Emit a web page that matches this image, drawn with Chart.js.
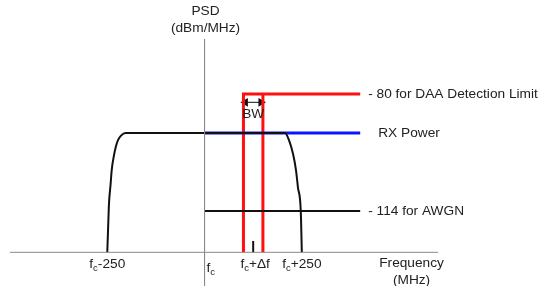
<!DOCTYPE html>
<html>
<head>
<meta charset="utf-8">
<script src="https://cdn.jsdelivr.net/npm/chart.js@4"></script>
<style>
  body { margin: 0; background: #fff; }
  canvas { display: block; }
</style>
</head>
<body>
<canvas id="psdChart" width="542" height="286"></canvas>
<script>
// spectrum mask (MHz offset from fc, dBm/MHz)
const spectrumX = [-250, -248, -245.5, -241.6, -238.6, -232.6, -227.5, -222.4, -214.7, -203, 207, 217, 227.5, 235, 240, 247.3, 250];
const spectrumY = [-126, -119.5, -111.7, -106.4, -102.1, -97.7, -95.1, -93.4, -92.1, -91.3, -91.3, -93.4, -97.4, -102.1, -107.1, -114, -126];

// levels
const rxPower = -91.3;
const daaLimit = -80;
const awgnLevel = -114;
const floorLevel = -126;

// detection window fc+Δf, BW
const deltaF = 125;
const bw = 50;
const lineEnd = 400;

// axes
const freqTicks = [-250, 0, 125, 250];
const freqTickLabels = ['fc-250', 'fc', 'fc+Δf', 'fc+250'];
const levelLabels = ['- 80 for DAA Detection Limit', 'RX Power', '- 114 for AWGN'];
const levelValues = [daaLimit, rxPower, awgnLevel];

const pts = (xs, ys) => xs.map((x, i) => ({ x: x, y: ys[i] }));

const lo = deltaF - bw / 2, hi = deltaF + bw / 2;

const datasets = [
    { // eixos
        data: pts([-500, 600], [floorLevel, floorLevel]),
        borderColor: '#8a8a8a', borderWidth: 1
    },
    {
        data: pts([0, 0], [-64, -136]),
        borderColor: '#8a8a8a', borderWidth: 1
    },
    { // curva do espectro
        data: pts(spectrumX, spectrumY),
        borderColor: '#111', borderWidth: 2, cubicInterpolationMode: 'monotone'
    },
    { // AWGN
        data: pts([0, lineEnd], [awgnLevel, awgnLevel]),
        borderColor: '#111', borderWidth: 2
    },
    { // RX power
        data: pts([0, lineEnd], [rxPower, rxPower]),
        borderColor: '#0a14ff', borderWidth: 3
    },
    { // tick fc+Δf
        data: pts([deltaF, deltaF], [floorLevel, -122.7]),
        borderColor: '#111', borderWidth: 2
    },
    { // janela DAA
        data: pts([lo, lo, lineEnd], [floorLevel, daaLimit, daaLimit]),
        borderColor: '#ff1010', borderWidth: 3
    },
    {
        data: pts([hi, hi], [daaLimit, floorLevel]),
        borderColor: '#ff1010', borderWidth: 3
    },
    { // seta BW
        data: pts([lo + 5, hi - 5], [-82.4, -82.4]),
        borderColor: '#111', borderWidth: 1,
        pointStyle: 'triangle', pointRadius: 5, pointRotation: [-90, 90],
        pointBackgroundColor: '#111', pointBorderColor: '#111', pointBorderWidth: 0
    }
];
datasets.forEach(d => { if (!d.pointRadius) d.pointRadius = 0; d.fill = false; });

const FONT = '13.7px "Liberation Sans", Arial, sans-serif';
const SUB = '9.5px "Liberation Sans", Arial, sans-serif';

// desenha "f" com subscrito "c" e o resto
function drawFc(ctx, label, x, y, align) {
    const rest = label.slice(2);
    ctx.font = FONT;
    const wf = ctx.measureText('f').width;
    const wr = ctx.measureText(rest).width;
    ctx.font = SUB;
    const wc = ctx.measureText('c').width;
    const total = wf + wc + wr;
    let sx = align === 'left' ? x : x - total / 2;
    ctx.textAlign = 'left';
    ctx.textBaseline = 'middle';
    ctx.font = FONT;
    ctx.fillText('f', sx, y);
    ctx.font = SUB;
    ctx.fillText('c', sx + wf, y + 4);
    ctx.font = FONT;
    ctx.fillText(rest, sx + wf + wc, y);
}

const labelsPlugin = {
    id: 'labels',
    afterDraw(chart) {
        const ctx = chart.ctx;
        const xs = chart.scales.x, ys = chart.scales.y;
        ctx.save();
        ctx.fillStyle = '#222';
        const base = ys.getPixelForValue(floorLevel);

        freqTicks.forEach((v, i) => {
            const px = xs.getPixelForValue(v);
            if (v === 0) drawFc(ctx, freqTickLabels[i], px + 2, base + 16, 'left');
            else drawFc(ctx, freqTickLabels[i], px + (v === deltaF ? 2 : 0), base + 12, 'center');
        });

        ctx.font = FONT;
        ctx.textAlign = 'center';
        ctx.textBaseline = 'middle';
        ctx.fillText('Frequency', xs.getPixelForValue(532), base + 11);
        ctx.fillText('(MHz)', xs.getPixelForValue(532), base + 28);

        const ax = xs.getPixelForValue(0);
        ctx.fillText('PSD', ax + 1, 11);
        ctx.fillText('(dBm/MHz)', ax + 1, 28);
        ctx.fillText('BW', xs.getPixelForValue(deltaF), ys.getPixelForValue(-85.8));

        ctx.textAlign = 'left';
        levelLabels.forEach((t, i) => {
            const px = xs.getPixelForValue(lineEnd) + (i === 1 ? 18 : 8);
            ctx.fillText(t, px, ys.getPixelForValue(levelValues[i]));
        });
        ctx.restore();
    }
};

new Chart(document.getElementById('psdChart'), {
    type: 'line',
    data: { datasets: datasets },
    options: {
        responsive: false,
        animation: false,
        layout: { autoPadding: false, padding: { left: 10, right: 104, top: 39, bottom: 1 } },
        scales: {
            x: { type: 'linear', min: -500, max: 600, display: false },
            y: { type: 'linear', min: -135.5, max: -64, display: false }
        },
        elements: { line: { borderCapStyle: 'butt', borderJoinStyle: 'miter' } },
        datasets: { line: { clip: false } },
        plugins: { legend: { display: false }, tooltip: { enabled: false } }
    },
    plugins: [labelsPlugin]
});
</script>
</body>
</html>
